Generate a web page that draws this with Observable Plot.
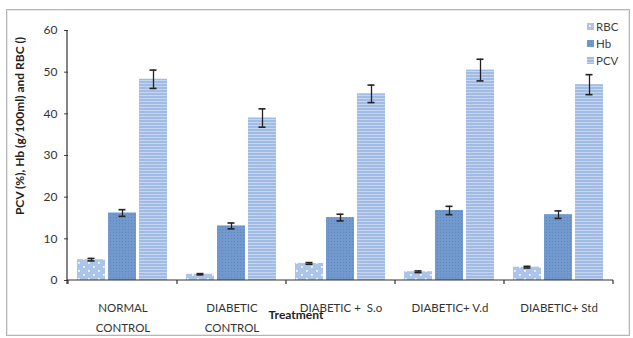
<!DOCTYPE html>
<html><head><meta charset="utf-8">
<script src="https://cdn.jsdelivr.net/npm/d3@7"></script>
<script src="https://cdn.jsdelivr.net/npm/@observablehq/plot@0.6"></script>
<style>
body{margin:0;background:#fff;}
#wrap{position:relative;width:633px;height:338px;overflow:hidden;font-family:Lato,"Open Sans",sans-serif;color:#404040;}
#frame{position:absolute;left:6px;top:9px;width:622px;height:325px;border:1px solid #b5b5b5;box-shadow:inset 0 0 0 1px #e8e8e8;}
#chart{position:absolute;left:0;top:0;}
#ylab{position:absolute;left:19px;top:126px;transform:translate(-50%,-50%) rotate(-90deg);white-space:nowrap;font-weight:bold;font-size:12px;color:#222;}
#xlab{position:absolute;left:296px;top:314px;transform:translate(-50%,-50%);white-space:nowrap;font-weight:bold;font-size:12px;color:#222;}
#legend{position:absolute;left:587px;top:18px;font-size:11.5px;color:#404040;}
#legend div{display:flex;align-items:center;height:17px;}
#legend svg{margin-right:2px;}
</style>
</head><body>
<div id="wrap">
  <div id="frame"></div>
  <div id="chart"></div>
  <div id="ylab">PCV (%), Hb (g/100ml) and RBC ()</div>
  <div id="xlab">Treatment</div>
  <div id="legend"></div>
</div>
<script>
const groups = ["NORMAL\nCONTROL", "DIABETIC\nCONTROL", "DIABETIC +  S.o", "DIABETIC+ V.d", "DIABETIC+ Std"];
const series = ["RBC", "Hb", "PCV"];
const rbc    = [5.0, 1.5, 4.1, 2.1, 3.2];
const rbcErr = [0.3, 0.15, 0.2, 0.2, 0.2];
const hb     = [16.2, 13.1, 15.1, 16.8, 15.8];
const hbErr  = [0.8, 0.7, 0.8, 1.0, 0.9];
const pcv    = [48.3, 39.0, 44.8, 50.5, 47.0];
const pcvErr = [2.2, 2.2, 2.1, 2.6, 2.4];
const yTicks = [0, 10, 20, 30, 40, 50, 60];

const vals = {RBC: rbc, Hb: hb, PCV: pcv};
const errs = {RBC: rbcErr, Hb: hbErr, PCV: pcvErr};
const rows = [];
groups.forEach((g, i) => series.forEach(s => rows.push({group: g, series: s, value: vals[s][i], err: errs[s][i]})));
const fills = {RBC: "url(#pRBC)", Hb: "url(#pHb)", PCV: "url(#pPCV)"};

const plot = Plot.plot({
  width: 633, height: 338,
  marginLeft: 67, marginRight: 20, marginTop: 30, marginBottom: 58,
  style: {fontFamily: "Lato, 'Open Sans', sans-serif", fontSize: "11px", color: "#333", background: "transparent", overflow: "visible"},
  fx: {domain: groups, paddingInner: 0, paddingOuter: 0, label: null},
  x: {domain: series, paddingInner: 0.085, paddingOuter: 0.265, axis: null},
  y: {domain: [0, 60], label: null},
  marks: [
    Plot.axisY({ticks: yTicks, tickSize: 4, tickPadding: 7, fontSize: 12, label: null, stroke: "#444"}),
    Plot.axisFx({anchor: "bottom", tickSize: 0, tickPadding: 17, lineHeight: 1.75, label: null, fontSize: 11.5}),
    ...series.map(s => Plot.barY(rows.filter(d => d.series === s), {fx: "group", x: "series", y: "value", fill: fills[s]})),
    Plot.ruleX(rows, {fx: "group", x: "series", y1: d => d.value - d.err, y2: d => d.value + d.err, stroke: "#222", strokeWidth: 1.3}),
    Plot.tickY(rows, {fx: "group", x: "series", y: d => d.value + d.err, stroke: "#222", strokeWidth: 1.6, insetLeft: 10.5, insetRight: 10.5}),
    Plot.tickY(rows, {fx: "group", x: "series", y: d => d.value - d.err, stroke: "#222", strokeWidth: 1.6, insetLeft: 10.5, insetRight: 10.5})
  ]
});

function addDefs(svgSel) {
  const defs = svgSel.insert("defs", ":first-child");
  const p1 = defs.append("pattern").attr("id", "pRBC").attr("patternUnits", "userSpaceOnUse").attr("width", 10).attr("height", 8);
  p1.append("rect").attr("width", 10).attr("height", 8).attr("fill", "#aac5e9");
  p1.append("rect").attr("x", 2).attr("y", 2).attr("width", 1.8).attr("height", 1.8).attr("fill", "#f6f9fd");
  p1.append("rect").attr("x", 7).attr("y", 6).attr("width", 1.8).attr("height", 1.8).attr("fill", "#f6f9fd");
  const p2 = defs.append("pattern").attr("id", "pHb").attr("patternUnits", "userSpaceOnUse").attr("width", 3).attr("height", 3);
  p2.append("rect").attr("width", 3).attr("height", 3).attr("fill", "#7299cd");
  p2.append("rect").attr("x", 1).attr("y", 1).attr("width", 1).attr("height", 1).attr("fill", "#6088c0");
  const p3 = defs.append("pattern").attr("id", "pPCV").attr("patternUnits", "userSpaceOnUse").attr("width", 4).attr("height", 3);
  p3.append("rect").attr("width", 4).attr("height", 3).attr("fill", "#a0bce4");
  p3.append("rect").attr("y", 2).attr("width", 4).attr("height", 0.9).attr("fill", "#c9d9f0");
}

const svg = d3.select(plot);
addDefs(svg);
const fx = plot.scale("fx"), y = plot.scale("y");
const x0 = fx.range[0], x1 = fx.range[1], y0 = y.apply(0), yTop = y.apply(60);
const g = svg.append("g").attr("stroke", "#333").attr("stroke-width", 1.2);
g.append("line").attr("x1", x0).attr("x2", x0).attr("y1", yTop).attr("y2", y0 + 4);
g.append("line").attr("x1", x0).attr("x2", x1).attr("y1", y0).attr("y2", y0);
const bounds = groups.map(d => fx.apply(d)).concat([fx.apply(groups[groups.length - 1]) + fx.bandwidth]);
bounds.forEach(b => g.append("line").attr("x1", b).attr("x2", b).attr("y1", y0).attr("y2", y0 + 4));
document.getElementById("chart").appendChild(plot);

// legend
const leg = d3.select("#legend");
series.forEach(s => {
  const row = leg.append("div");
  const sw = row.append("svg").attr("width", 7).attr("height", 7);
  addDefs(sw);
  sw.append("rect").attr("width", 7).attr("height", 7).attr("fill", fills[s]);
  row.append("span").text(s);
});
</script>
</body></html>
